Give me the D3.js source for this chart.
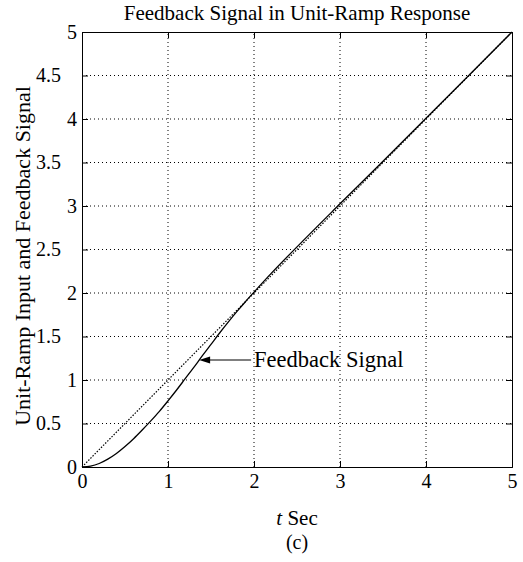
<!DOCTYPE html>
<html><head><meta charset="utf-8">
<script src="https://cdn.jsdelivr.net/npm/d3@7"></script>
<style>body{margin:0;background:#fff}svg{display:block}</style>
</head><body>
<script>
const tTimes = [0,0.1,0.2,0.3,0.4,0.5,0.6,0.7,0.8,0.9,1.0,1.1,1.2,1.3,1.4,1.5,1.6,1.7,1.8,1.9,2.0,2.2,2.5,3.0,3.5,4.0,4.5,5.0];
const feedback = [0,0.01,0.04,0.09,0.155,0.235,0.325,0.425,0.53,0.64,0.76,0.885,1.015,1.145,1.28,1.41,1.54,1.665,1.785,1.9,2.01,2.225,2.53,3.025,3.515,4.008,4.503,5.0];
const rampT = [0,5];
const rampV = [0,5];
const xTicks = [0,1,2,3,4,5];
const yTicks = [0,0.5,1,1.5,2,2.5,3,3.5,4,4.5,5];

const W=523,H=562;
const m={l:82,r:11,t:32,b:95};
const svg=d3.select("body").append("svg").attr("width",W).attr("height",H);
const x=d3.scaleLinear().domain([0,5]).range([m.l,W-m.r]);
const y=d3.scaleLinear().domain([0,5]).range([H-m.b,m.t]);
const font="'Liberation Serif','Times New Roman',serif";
const FS=20;

// grid
const g=svg.append("g");
xTicks.slice(1,-1).forEach(v=>g.append("line").attr("x1",x(v)).attr("x2",x(v)).attr("y1",y(0)).attr("y2",y(5))
  .attr("stroke","#000").attr("stroke-width",1).attr("stroke-dasharray","1,3"));
yTicks.slice(1,-1).forEach(v=>g.append("line").attr("x1",x(0)).attr("x2",x(5)).attr("y1",y(v)).attr("y2",y(v))
  .attr("stroke","#000").attr("stroke-width",1).attr("stroke-dasharray","1,3"));

// axes
const xa=svg.append("g").attr("transform",`translate(0,${y(0)})`)
  .call(d3.axisBottom(x).tickValues(xTicks).tickSize(-6).tickPadding(7).tickFormat(d3.format("d")));
const xt=svg.append("g").attr("transform",`translate(0,${y(5)})`)
  .call(d3.axisTop(x).tickValues(xTicks).tickSize(-6).tickFormat(""));
const ya=svg.append("g").attr("transform",`translate(${x(0)},0)`)
  .call(d3.axisLeft(y).tickValues(yTicks).tickSize(-6).tickPadding(5).tickFormat(d=>String(d)));
const yr=svg.append("g").attr("transform",`translate(${x(5)},0)`)
  .call(d3.axisRight(y).tickValues(yTicks).tickSize(-6).tickFormat(""));
[xa,xt,ya,yr].forEach(a=>{a.selectAll("path,line").attr("stroke","#000").attr("stroke-width",1);
  a.selectAll("text").attr("font-family",font).attr("font-size",FS).attr("fill","#000");});
// decimal labels sit further left, as in the reference
ya.selectAll(".tick text").filter(d=>d%1!==0).attr("x",-21);

// ramp input (dotted)
const line=d3.line().x(d=>x(d[0])).y(d=>y(d[1]));
svg.append("path").datum(rampT.map((t,i)=>[t,rampV[i]])).attr("d",line)
  .attr("fill","none").attr("stroke","#000").attr("stroke-width",1.2).attr("stroke-dasharray","1.5,1.5");
// feedback
svg.append("path").datum(tTimes.map((t,i)=>[t,feedback[i]])).attr("d",line.curve(d3.curveMonotoneX))
  .attr("fill","none").attr("stroke","#000").attr("stroke-width",1.3);

// annotation
const tipX=x(1.35)+1, tipY=y(1.23);
svg.append("line").attr("x1",tipX+8).attr("x2",tipX+52).attr("y1",tipY).attr("y2",tipY).attr("stroke","#000").attr("stroke-width",1.2);
svg.append("path").attr("d",`M${tipX},${tipY}L${tipX+11},${tipY-3.5}L${tipX+11},${tipY+3.5}Z`).attr("fill","#000");
svg.append("text").attr("x",tipX+55).attr("y",tipY+7).text("Feedback Signal")
  .attr("font-family",font).attr("font-size",22.5);

// title & labels
svg.append("text").attr("x",(x(0)+x(5))/2).attr("y",20).attr("text-anchor","middle")
  .attr("font-family",font).attr("font-size",21).text("Feedback Signal in Unit-Ramp Response");
const xl=svg.append("text").attr("x",(x(0)+x(5))/2).attr("y",525).attr("text-anchor","middle")
  .attr("font-family",font).attr("font-size",21);
xl.append("tspan").attr("font-style","italic").text("t");
xl.append("tspan").text(" Sec");
svg.append("text").attr("transform",`translate(30,256) rotate(-90)`).attr("text-anchor","middle")
  .attr("font-family",font).attr("font-size",22).text("Unit-Ramp Input and Feedback Signal");
svg.append("text").attr("x",(x(0)+x(5))/2).attr("y",549).attr("text-anchor","middle")
  .attr("font-family",font).attr("font-size",20).text("(c)");
</script>
</body></html>
